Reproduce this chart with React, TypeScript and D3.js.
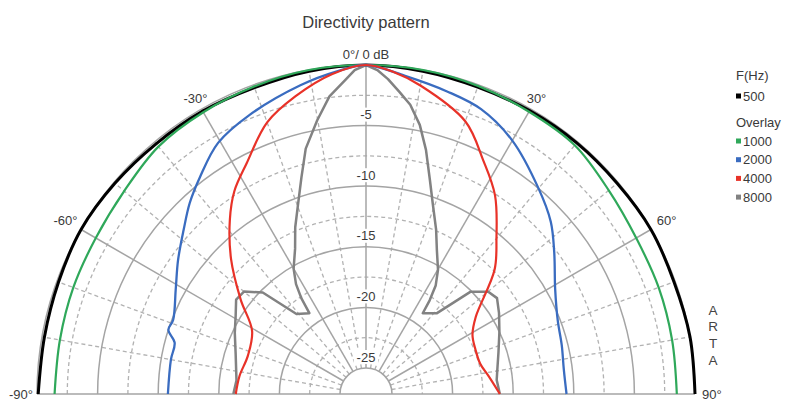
import React from "react";
import * as d3 from "d3";

type P = { a: number; db: number };
const mk = (pts: number[][]): P[] => pts.map(([a, db]) => ({ a, db }));

// Data: angle (deg, clockwise from 0°), level (dB)
const freq500 = mk([
  [-90, -0.1], [-80, -0.2], [-70, -0.15], [-60, 0], [-50, -0.1], [-40, -0.2], [-30, -0.2],
  [-20, -0.25], [-10, -0.1], [0, 0], [10, -0.1], [20, -0.2], [30, -0.15], [40, -0.1],
  [50, -0.1], [60, 0], [70, -0.1], [80, 0], [90, 0],
]);
const freq1000 = mk([
  [-90, -1.45], [-80, -1.5], [-70, -1.45], [-60, -1.4], [-50, -1.1], [-40, -0.5], [-30, -0.3],
  [-20, -0.15], [-10, 0], [0, 0], [10, 0], [20, -0.1], [30, -0.25], [40, -0.35],
  [50, -1.0], [60, -1.4], [70, -1.45], [80, -1.5], [90, -1.5],
]);
const freq2000 = mk([
  [-90, -10.8], [-80, -10.8], [-75, -10.8], [-72, -10.0], [-69, -10.1], [-61, -9.2],
  [-54.5, -8.1], [-48, -6.9], [-42.7, -5.7], [-37.4, -4.6], [-30.5, -3.1], [-22.7, -2.2],
  [-12, -1.1], [-5, -0.4], [0, 0], [7, -0.7], [15, -1.3], [22, -1.8], [30, -3.0],
  [40, -5.0], [47, -6.3], [53, -7.7], [61, -9.3], [69, -10.2], [76, -10.5], [83, -10.7], [90, -10.6],
]);
const freq4000 = mk([
  [-90, -16.4], [-82, -16.6], [-72, -16.9], [-61, -16.4], [-53, -14.2], [-45, -11.4],
  [-38, -8.9], [-33, -7.2], [-27.3, -5.7], [-20, -3.3], [-13.3, -1.9], [-6, -0.6], [0, 0],
  [5, -0.5], [10, -1.3], [20, -3.2], [26.6, -5.56], [33, -7.6], [40, -10.4], [46, -12.4],
  [55, -16.1], [61, -17.1], [68, -17.4], [75, -17.4], [82, -16.9], [90, -16.1],
]);
const freq8000 = mk([
  [-90, -16.2], [-84, -16.4], [-73, -15.9], [-65, -15.2], [-59, -14.6], [-54, -13.9],
  [-50, -14.0], [-45.5, -15.2], [-41, -18.4], [-35, -19.0], [-34, -17.6], [-32.5, -16.4],
  [-30, -15.2], [-26, -13.8], [-23, -12.2], [-19.5, -10.4], [-16.6, -8.5], [-13.8, -6.3],
  [-10.1, -4.2], [-7, -2.4], [-3.8, -1.2], [-2, -0.4], [0, 0],
  [2, -0.4], [4, -1.1], [6.4, -2.1], [8.7, -3.0], [11.3, -4.5], [13.8, -6.4], [16.6, -8.7],
  [19.5, -10.6], [23.1, -12.4], [26.2, -13.9], [30.1, -15.3], [32.7, -16.5], [34.2, -17.8],
  [35.1, -19.0], [41.2, -18.3], [45.6, -15.1], [50.1, -14.0], [53.8, -13.75], [58.7, -14.3],
  [65, -15.0], [72.7, -15.7], [79, -16.1], [83.9, -16.3], [90, -16.1],
]);

const legendLabels = ["500", "1000", "2000", "4000", "8000"];
const seriesColors = ["#000000", "#2fa85a", "#3a6cc0", "#e83228", "#828282"];
const dbTicks = [-5, -10, -15, -20, -25];
const dbMinor = [-2.5, -7.5, -12.5, -17.5, -22.5];
const angleMajor = [-60, -30, 30, 60];
const angleLabels = [-60, -30, 30, 60];

const W = 800, H = 411;
const CX = 366, CY = 394, R0 = 26, R1 = 329;

export default function App() {
  const r = d3.scaleLinear().domain([-25, 0]).range([R0, R1]);
  const rad = (deg: number) => (deg * Math.PI) / 180;
  const semi = (rr: number) => {
    const p = d3.path();
    p.arc(CX, CY, rr, Math.PI, 2 * Math.PI);
    return p.toString();
  };
  const spoke = (deg: number) => {
    const s = Math.sin(rad(deg)), c = Math.cos(rad(deg));
    return { x1: CX + R0 * s, y1: CY - R0 * c, x2: CX + R1 * s, y2: CY - R1 * c };
  };
  const minorAngles = d3.range(-80, 90, 10).filter((a) => a % 30 !== 0);

  const smooth = d3
    .lineRadial<P>()
    .angle((d) => rad(d.a))
    .radius((d) => r(d.db))
    .curve(d3.curveCatmullRom.alpha(0.5));
  const lin = d3
    .lineRadial<P>()
    .angle((d) => rad(d.a))
    .radius((d) => r(d.db))
    .curve(d3.curveLinear);

  const font = "'Liberation Sans', Arial, sans-serif";
  const txt = "#3a3a3a";
  const grid = "#a4a4a4";
  const dash = "#b2b2b2";

  const labelPos = (deg: number, rr: number) => ({
    x: CX + rr * Math.sin(rad(deg)),
    y: CY - rr * Math.cos(rad(deg)),
  });

  return (
    <svg width={W} height={H} style={{ position: "absolute", left: 0, top: 0, background: "#fff" }} fontFamily={font}>
      <rect x={0} y={0} width={W} height={H} fill="#fff" />
      <text x={CX} y={28} textAnchor="middle" fontSize={16.5} fill={txt}>Directivity pattern</text>

      {/* minor grid */}
      {dbMinor.map((d) => (
        <path key={"mc" + d} d={semi(r(d))} fill="none" stroke={dash} strokeWidth={1.3} strokeDasharray="4,3" />
      ))}
      {minorAngles.map((a) => {
        const s = spoke(a);
        return <line key={"ms" + a} {...s} stroke={dash} strokeWidth={1.3} strokeDasharray="4,3" />;
      })}
      {/* major grid */}
      {[0, ...dbTicks].map((d) => (
        <path key={"c" + d} d={semi(r(d))} fill="none" stroke={grid} strokeWidth={1.5} />
      ))}
      {[0, ...angleMajor].map((a) => {
        const s = spoke(a);
        return <line key={"s" + a} {...s} stroke={grid} strokeWidth={1.5} />;
      })}
      <line x1={CX - R1} y1={CY} x2={CX + R1} y2={CY} stroke={grid} strokeWidth={1.7} />

      {/* curves */}
      <g transform={`translate(${CX},${CY})`} fill="none" strokeLinejoin="round">
        <path d={smooth(freq500) || ""} stroke={seriesColors[0]} strokeWidth={3} />
        <path d={smooth(freq1000) || ""} stroke={seriesColors[1]} strokeWidth={2.2} />
        <path d={lin(freq8000) || ""} stroke={seriesColors[4]} strokeWidth={2.5} />
        <path d={smooth(freq2000) || ""} stroke={seriesColors[2]} strokeWidth={2.3} />
        <path d={smooth(freq4000) || ""} stroke={seriesColors[3]} strokeWidth={2.2} />
      </g>

      {/* dB labels */}
      {dbTicks.map((d) => {
        const y = CY - r(d) - 11;
        const label = String(d);
        const w = label.length * 7.5 + 2;
        return (
          <g key={"l" + d}>
            <rect x={CX - w / 2} y={y - 7} width={w} height={14} fill="#fff" />
            <text x={CX} y={y} dy="0.35em" textAnchor="middle" fontSize={13} fill={txt}>{label}</text>
          </g>
        );
      })}
      <text x={CX} y={CY - r(0) - 11} dy="0.35em" textAnchor="middle" fontSize={13} fill={txt}>0°/ 0 dB</text>

      {/* angle labels */}
      {angleLabels.map((a) => {
        const p = labelPos(a, Math.abs(a) === 30 ? 341 : 347);
        return (
          <text key={"a" + a} x={p.x} y={p.y} dy="0.35em" textAnchor="middle" fontSize={13} fill={txt}>{`${a}°`}</text>
        );
      })}
      <text x={CX - R1 - 4} y={CY} dy="0.35em" textAnchor="end" fontSize={13} fill={txt}>-90°</text>
      <text x={CX + R1 + 7} y={CY} dy="0.35em" textAnchor="start" fontSize={13} fill={txt}>90°</text>

      {/* ARTA */}
      {["A", "R", "T", "A"].map((ch, i) => (
        <text key={"arta" + i} x={713} y={310 + i * 16.7} dy="0.35em" textAnchor="middle" fontSize={13.5} fill="#444">{ch}</text>
      ))}

      {/* legend */}
      <g fontSize={13} fill={txt}>
        <text x={736} y={75} dy="0.35em">F(Hz)</text>
        <text x={736} y={122} dy="0.35em">Overlay</text>
        {legendLabels.map((l, i) => {
          const y = i === 0 ? 96 : 141 + (i - 1) * 18.7;
          return (
            <g key={"lg" + l}>
              <rect x={736} y={y - 2.5} width={5} height={5} fill={seriesColors[i]} />
              <text x={743} y={y} dy="0.35em">{l}</text>
            </g>
          );
        })}
      </g>
    </svg>
  );
}
